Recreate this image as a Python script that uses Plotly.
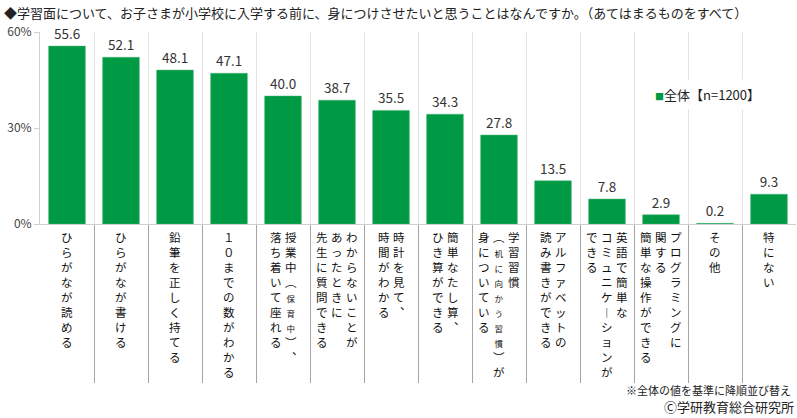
import plotly.graph_objects as go

# ---- data ----
categories = ['ひらがなが読める', 'ひらがなが書ける', '鉛筆を正しく持てる', '１０までの数がわかる',
              '授業中（保育中）、落ち着いて座れる', 'わからないことがあったときに先生に質問できる',
              '時計を見て、時間がわかる', '簡単なたし算、ひき算ができる',
              '学習習慣（机に向かう習慣）が身についている', 'アルファベットの読み書きができる',
              '英語で簡単なコミュニケーションができる', 'プログラミングに関する簡単な操作ができる',
              'その他', '特にない']
values = [55.6, 52.1, 48.1, 47.1, 40.0, 38.7, 35.5, 34.3, 27.8, 13.5, 7.8, 2.9, 0.2, 9.3]

# vertical tick label columns, right to left
label_columns = [
    ['ひらがなが読める'],
    ['ひらがなが書ける'],
    ['鉛筆を正しく持てる'],
    ['１０までの数がわかる'],
    ['授業中（保育中）、', '落ち着いて座れる'],
    ['わからないことが', 'あったときに', '先生に質問できる'],
    ['時計を見て、', '時間がわかる'],
    ['簡単なたし算、', 'ひき算ができる'],
    ['学習習慣', '（机に向かう習慣）が', '身についている'],
    ['アルファベットの', '読み書きができる'],
    ['英語で簡単な', 'コミュニケーションが', 'できる'],
    ['プログラミングに', '関する', '簡単な操作ができる'],
    ['その他'],
    ['特にない'],
]
y_ticks = [0, 30, 60]
y_tick_text = ['0%', '30%', '60%']

title_text = '◆学習面について、お子さまが小学校に入学する前に、身につけさせたいと思うことはなんですか。（あてはまるものをすべて）'
legend_text = '全体【n=1200】'
note_text = '※全体の値を基準に降順並び替え'
credit_text = 'Ⓒ学研教育総合研究所'

GREEN = '#009a44'
FONT = 'Noto Sans CJK JP'

# vertical forms for punctuation
VERT = {'、': '︑', '（': '︵', '）': '︶', 'ー': '︱'}


def to_vertical(s):
    out = []
    small = False
    for ch in s:
        if ch == '（':
            out.append(VERT[ch])
            small = True
            continue
        if ch == '）':
            small = False
            out.append(VERT[ch])
            continue
        c = VERT.get(ch, ch)
        if small:
            c = "<span style='font-size:8.5px'>" + c + "</span>"
        out.append(c)
    return '<br>'.join(out)


x_pos = list(range(len(categories)))

fig = go.Figure()
fig.add_trace(go.Bar(
    x=x_pos,
    y=values,
    width=0.68,
    marker=dict(color=GREEN, line=dict(color='#4db57a', width=0.5)),
    text=values,
    texttemplate='%{y:.1f}',
    textposition='outside',
    textfont=dict(family=FONT, size=13.5, color='#333333'),
    constraintext='none',
    cliponaxis=False,
    customdata=categories,
    hovertemplate='%{customdata}: %{y:.1f}%<extra></extra>',
    showlegend=False,
))

# vertical category labels
col_gap = 15
for i, cols in enumerate(label_columns):
    n = len(cols)
    for j, col in enumerate(cols):
        fig.add_annotation(
            x=x_pos[i], xref='x', y=0, yref='paper',
            xanchor='center', yanchor='top',
            xshift=((n - 1) / 2 - j) * col_gap, yshift=-3,
            text=to_vertical(col), showarrow=False, align='center',
            font=dict(family=FONT, size=11.5, color='#111111'),
        )

# legend-like box
fig.add_annotation(
    x=0.806, xref='paper', y=0.672, yref='paper',
    xanchor='left', yanchor='middle',
    text="<span style='color:%s;font-size:9px'>■</span>%s" % (GREEN, legend_text),
    showarrow=False, bgcolor='white', borderpad=5,
    font=dict(family=FONT, size=13, color='#222222'),
)

fig.add_annotation(
    x=0.996, xref='paper', y=-0.862, yref='paper',
    xanchor='right', yanchor='middle', text=note_text, showarrow=False,
    font=dict(family=FONT, size=11, color='#222222'),
)
fig.add_annotation(
    x=1.0, xref='paper', y=-0.948, yref='paper',
    xanchor='right', yanchor='middle', text=credit_text, showarrow=False,
    font=dict(family=FONT, size=13, color='#222222'),
)

fig.update_layout(
    width=797, height=418,
    margin=dict(l=40, r=1, t=32, b=194),
    paper_bgcolor='white', plot_bgcolor='white',
    title=dict(text=title_text, x=0.005, xanchor='left', xref='container',
               y=0.968, yanchor='middle',
               font=dict(family=FONT, size=13, color='#222222')),
    font=dict(family=FONT),
    bargap=0.32,
)
fig.update_xaxes(
    range=[-0.5, len(categories) - 0.5],
    tickvals=[i + 0.5 for i in x_pos[:-1]],
    showticklabels=False,
    ticks='outside', ticklen=158, tickcolor='#a6a6a6', tickwidth=1,
    showgrid=True, gridcolor='#e3e3e3', gridwidth=1,
    showline=True, linecolor='#d0d0d0', linewidth=1,
    zeroline=False, fixedrange=True,
)
fig.update_yaxes(
    range=[0, 60],
    tickvals=y_ticks, ticktext=y_tick_text,
    tickfont=dict(family=FONT, size=12, color='#444444'),
    ticks='outside', ticklen=5, tickcolor='#d0d0d0',
    showgrid=False, zeroline=False,
    showline=True, linecolor='#d0d0d0', linewidth=1,
    fixedrange=True,
)

# drop the default page margin so the figure sits at the window's corner
fig.write_html('out.html', config={'displayModeBar': False},
               post_script="document.body.style.margin='0';")
